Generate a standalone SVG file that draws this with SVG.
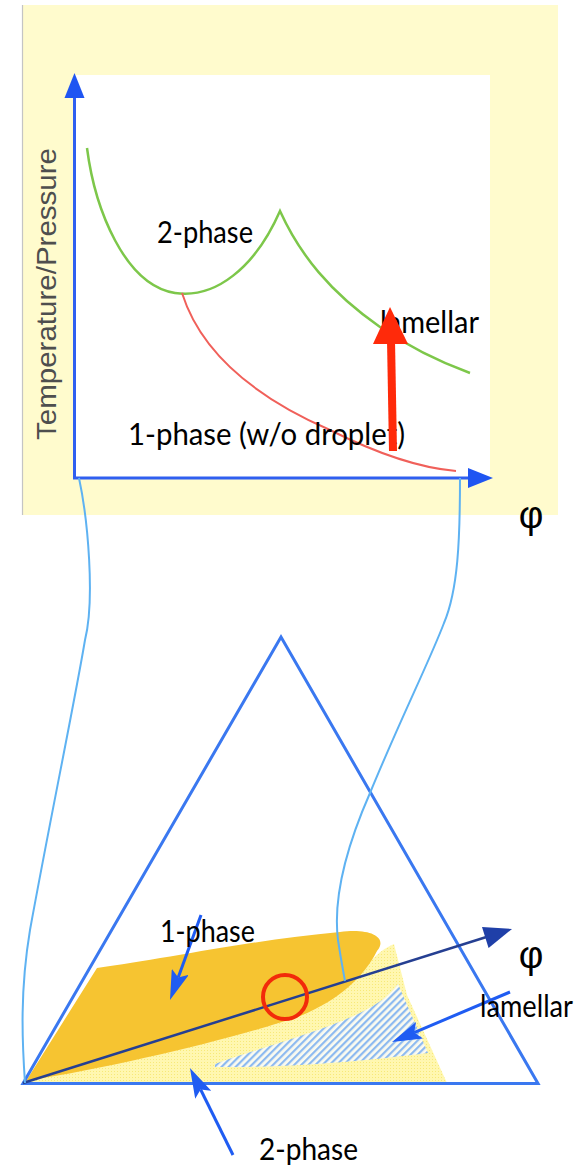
<svg xmlns="http://www.w3.org/2000/svg" width="581" height="1169" viewBox="0 0 581 1169">
<style>
.lbl{font-family:"Lato","Liberation Sans",sans-serif;font-size:30px;fill:#000}
.phi{font-family:"Liberation Sans",sans-serif;font-size:38px;fill:#000}
.axis{stroke:#2f5ff0;stroke-width:3;fill:none}
.conn{stroke:#5eb2f2;stroke-width:2;fill:none}
.ptr{stroke:#1f5cf2;stroke-width:3;fill:none;marker-end:url(#ptrHead)}
.tri{stroke:#3a78f0;stroke-width:3;fill:none;stroke-linejoin:miter}
</style>
<defs>
<marker id="ptrHead" markerUnits="userSpaceOnUse" viewBox="0 0 30 18" markerWidth="30" markerHeight="18" refX="6" refY="9" orient="auto">
<path d="M0,0 L30,9 L0,18 L6,9 Z" fill="#1f5cf2"/>
</marker>
<pattern id="dots" patternUnits="userSpaceOnUse" width="3" height="3">
<rect width="3" height="3" fill="#fff7b0"/>
<rect width="1" height="1" fill="#f7e978"/>
</pattern>
<pattern id="hatch" patternUnits="userSpaceOnUse" width="5" height="5" patternTransform="rotate(45)">
<rect width="5" height="5" fill="#fbfbf0"/>
<rect width="2.2" height="5" fill="#8dbaf0"/>
</pattern>
</defs>

<g id="plot">
<rect x="22" y="5" width="536" height="510" fill="#fffbcd"/>
<line x1="22.5" y1="5" x2="22.5" y2="515" stroke="#c4c4c4" stroke-width="1.2"/>
<rect x="75" y="75" width="415" height="403" fill="#ffffff"/>
<text x="0" y="0" transform="translate(56,294) rotate(-90)" text-anchor="middle" font-family="Liberation Sans, sans-serif" font-size="28" fill="#4e4e4e" textLength="292" lengthAdjust="spacingAndGlyphs">Temperature/Pressure</text>
</g>

<g id="curve-2phase">
<path d="M87,148 C95,210 125,285 175,293 C215,299 255,268 280,211 C300,255 330,292 380,327 C412,349 440,362 470,373" fill="none" stroke="#7dc74a" stroke-width="2.5"/>
</g>
<g id="curve-1phase">
<path d="M182,293 C200,350 250,395 330,430 C380,455 420,468 456,471" fill="none" stroke="#f0605a" stroke-width="2"/>
</g>

<g id="plot-labels">
<text class="lbl" x="157" y="243" textLength="96" lengthAdjust="spacingAndGlyphs">2-phase</text>
<text class="lbl" x="380" y="333" textLength="99" lengthAdjust="spacingAndGlyphs">lamellar</text>
<text class="lbl" x="128" y="445" textLength="277" lengthAdjust="spacingAndGlyphs">1-phase (w/o droplet)</text>
<text class="phi" x="531" y="528" text-anchor="middle">φ</text>
</g>

<g id="axes">
<line class="axis" x1="74.5" y1="479" x2="74.5" y2="96"/>
<polygon points="74.5,73 64.5,98 84.5,98" fill="#1f55f2"/>
<line class="axis" x1="73" y1="478" x2="470" y2="478"/>
<polygon points="493,478 468,468 468,488" fill="#1f55f2"/>
</g>

<g id="red-arrow">
<line x1="393" y1="451" x2="391" y2="340" stroke="#ff2a0a" stroke-width="8"/>
<polygon points="390,307 373,344 408,344" fill="#ff2a0a"/>
</g>

<g id="triangle">
<path d="M447,1083 L407,995 L394,944 C380,950 370,960 360,975 L24,1083 Z" fill="url(#dots)"/>
<path d="M26,1081 L97,968 C160,960 250,940 340,932 C372,928 388,938 377,951 C365,975 340,1000 300,1016 C240,1037 120,1066 26,1081 Z" fill="#f6c431"/>
<path d="M215,1064 C260,1048 320,1032 360,1013 C380,1003 390,995 398,984 L428,1053 C380,1059 300,1068 215,1067 Z" fill="url(#hatch)"/>
<path class="tri" d="M23,1083.5 L281,637 L538,1083.5 Z"/>
</g>

<g id="phi-axis">
<line x1="23" y1="1083" x2="488" y2="936.5" stroke="#253f92" stroke-width="2.5"/>
<polygon points="512,929 482,926.9 488.6,947.9" fill="#1f3fa8"/>
</g>

<g id="marker-circle">
<circle cx="285" cy="997" r="22" fill="none" stroke="#f22a0a" stroke-width="4"/>
</g>

<g id="connectors">
<path class="conn" d="M79,478 C88,520 95,600 85,640 C75,700 50,820 30,930 C20,990 22,1040 25,1083"/>
<path class="conn" d="M460,478 C460,540 458,590 444,623 C430,660 400,720 370,793 C345,850 333,900 338,940 C341,960 343,970 345,981"/>
<path class="ptr" d="M201,915 L178.2,977.5"/>
<path class="ptr" d="M510,992 L414.1,1032.6"/>
<path class="ptr" d="M233,1155 L200.6,1089.5"/>
</g>

<g id="triangle-labels">
<text class="lbl" x="160" y="942" textLength="95" lengthAdjust="spacingAndGlyphs">1-phase</text>
<text class="phi" x="531" y="968" text-anchor="middle">φ</text>
<text class="lbl" x="480" y="1017" textLength="93" lengthAdjust="spacingAndGlyphs">lamellar</text>
<text class="lbl" x="259" y="1160" textLength="99" lengthAdjust="spacingAndGlyphs">2-phase</text>
</g>
</svg>
